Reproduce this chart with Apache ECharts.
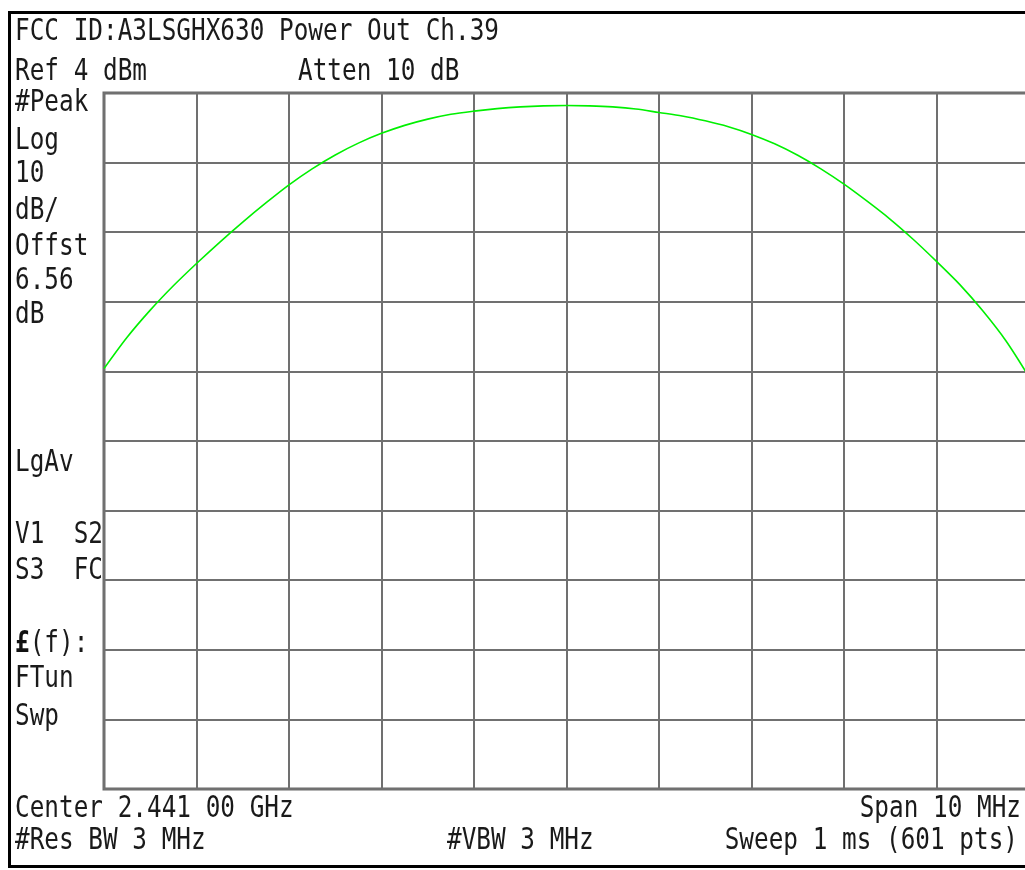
<!DOCTYPE html>
<html><head><meta charset="utf-8">
<script src="https://cdn.jsdelivr.net/npm/echarts@6/dist/echarts.min.js"></script>
<style>html,body{margin:0;padding:0;overflow:hidden;background:#fff}#c{width:1045px;height:870px}</style>
</head><body><div id="c"></div>
<script>
// Frequency (MHz) of each read point
const freqMHz = [2436.00, 2436.25, 2436.50, 2436.75, 2437.00, 2437.25, 2437.50, 2437.75,
  2438.00, 2438.25, 2438.50, 2438.75, 2439.00, 2439.25, 2439.50, 2439.75,
  2440.00, 2440.25, 2440.50, 2440.75, 2441.00, 2441.25, 2441.50, 2441.75,
  2442.00, 2442.25, 2442.50, 2442.75, 2443.00, 2443.25, 2443.50, 2443.75,
  2444.00, 2444.25, 2444.50, 2444.75, 2445.00, 2445.25, 2445.50, 2445.75, 2446.00];
// Trace level (dBm)
const levelDbm = [-35.6, -31.1, -27.2, -23.7, -20.5, -17.45, -14.55, -11.8,
  -9.2, -6.9, -4.9, -3.2, -1.8, -0.65, 0.25, 0.95,
  1.4, 1.75, 2.0, 2.15, 2.2, 2.15, 2.0, 1.7,
  1.2, 0.7, 0.0, -0.85, -1.95, -3.3, -4.95, -6.9,
  -9.1, -11.55, -14.15, -17.05, -20.2, -23.5, -27.3, -31.6, -36.8];
// Axis settings (display)
const refLevel = 4;       // dBm, top of screen
const dbPerDiv = 10;
const divisions = 10;
const centerMHz = 2441;
const spanMHz = 10;

const headerTexts = ['FCC ID:A3LSGHX630 Power Out Ch.39', 'Ref 4 dBm', 'Atten 10 dB'];
const sideTexts = ['#Peak', 'Log', '10', 'dB/', 'Offst', '6.56', 'dB', 'LgAv', 'V1  S2', 'S3  FC', '{b|£}(f):', 'FTun', 'Swp'];
const footerTexts = ['Center 2.441 00 GHz', 'Span 10 MHz', '#Res BW 3 MHz', '#VBW 3 MHz', 'Sweep 1 ms (601 pts)'];

const traceData = freqMHz.map((f, i) => [f, levelDbm[i]]);

const FS = 30, SX = 0.812;
const FONT = FS + 'px "DejaVu Sans Mono", "Liberation Mono", monospace';
function txt(text, x, y, align) {
  return {
    type: 'text', x: x, y: y, scaleX: SX, scaleY: 1, z: 10,
    style: {
      text: text, x: 0, y: 0, font: FONT, fill: '#1a1a1a',
      align: align || 'left', verticalAlign: 'middle',
      rich: { b: { fontSize: FS, fontFamily: '"DejaVu Sans Mono", monospace', fontWeight: 'bold', fill: '#111' } }
    }
  };
}
const sideY = [103, 141, 174, 211, 247, 281, 315, 463, 535, 571, 644, 679, 717];
const graphics = [
  { type: 'rect', z: 5, shape: { x: 9.5, y: 12.5, width: 1040, height: 854 },
    style: { fill: null, stroke: '#000', lineWidth: 3 } },
  txt(headerTexts[0], 15, 32),
  txt(headerTexts[1], 15, 72),
  txt(headerTexts[2], 298, 72),
  txt(footerTexts[0], 15, 809),
  txt(footerTexts[1], 1021, 809, 'right'),
  txt(footerTexts[2], 15, 841),
  txt(footerTexts[3], 447, 841),
  txt(footerTexts[4], 1018, 841, 'right')
];
sideTexts.forEach((t, i) => graphics.push(txt(t, 15, sideY[i])));

const chart = echarts.init(document.getElementById('c'));
chart.setOption({
  animation: false,
  backgroundColor: '#fff',
  grid: { left: 104, top: 93, right: 16, bottom: 81, show: true, borderColor: '#6a6a6a', borderWidth: 3, backgroundColor: 'transparent' },
  xAxis: {
    type: 'value', min: centerMHz - spanMHz / 2, max: centerMHz + spanMHz / 2, interval: spanMHz / divisions,
    axisLabel: { show: false }, axisTick: { show: false }, axisLine: { show: false },
    splitLine: { show: true, lineStyle: { color: '#707070', width: 2 } }
  },
  yAxis: [
    { type: 'value', min: refLevel - dbPerDiv * divisions, max: refLevel, show: false, splitLine: { show: false } },
    { type: 'value', min: 0, max: divisions, interval: 1, position: 'right',
      axisLabel: { show: false }, axisTick: { show: false }, axisLine: { show: false },
      splitLine: { show: true, lineStyle: { color: '#707070', width: 2 } } }
  ],
  series: [{
    type: 'line', yAxisIndex: 0, data: traceData, smooth: 0.3, showSymbol: false,
    lineStyle: { color: '#00f000', width: 1.6 }, z: 3
  }],
  graphic: graphics
});
</script>
</body></html>
